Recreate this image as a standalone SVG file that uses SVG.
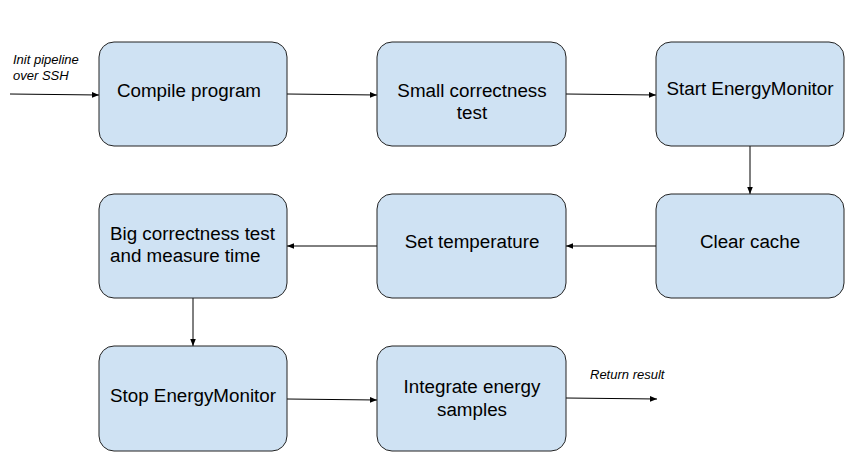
<svg xmlns="http://www.w3.org/2000/svg" width="860" height="470" viewBox="0 0 860 470">
<defs>
<marker id="ah" viewBox="0 0 10 10" refX="10" refY="5" markerWidth="7" markerHeight="7" markerUnits="userSpaceOnUse" orient="auto">
<path d="M0,1 L10,5 L0,9 Z" fill="#000"/>
</marker>
<style>
.box{fill:#cfe2f3;stroke:#222;stroke-width:1}
.t{font-family:"Liberation Sans",Arial,sans-serif;font-size:18.8px;fill:#000;text-anchor:middle}
.tl{font-family:"Liberation Sans",Arial,sans-serif;font-size:18.8px;fill:#000}
.l{font-family:"Liberation Sans",Arial,sans-serif;font-size:13px;font-style:italic;fill:#000}
.c{stroke:#000;stroke-width:1;fill:none;marker-end:url(#ah)}
</style>
</defs>
<rect width="860" height="470" fill="#fff"/>
<g id="connectors">
<line class="c" x1="10" y1="94" x2="99" y2="95"/>
<line class="c" x1="287" y1="94" x2="377" y2="95"/>
<line class="c" x1="566" y1="94" x2="656" y2="95"/>
<line class="c" x1="750" y1="146" x2="750" y2="194"/>
<line class="c" x1="656" y1="246" x2="566" y2="246"/>
<line class="c" x1="377" y1="246" x2="287" y2="246"/>
<line class="c" x1="193" y1="298" x2="193" y2="346"/>
<line class="c" x1="287" y1="399" x2="377" y2="400"/>
<line class="c" x1="566" y1="398" x2="657" y2="399"/>
<text class="l" x="13" y="64">Init pipeline</text>
<text class="l" x="13" y="80">over SSH</text>
<text class="l" x="590" y="379">Return result</text>
</g>
<g id="compile"><rect class="box" x="99" y="42" width="188" height="104" rx="15"/><text class="t" x="189" y="97">Compile program</text></g>
<g id="small"><rect class="box" x="377" y="42" width="189" height="104" rx="15"/><text class="t" x="472" y="97">Small correctness</text><text class="t" x="472" y="119">test</text></g>
<g id="start"><rect class="box" x="656" y="42" width="188" height="104" rx="15"/><text class="t" x="750" y="95">Start EnergyMonitor</text></g>
<g id="clear"><rect class="box" x="656" y="194" width="188" height="104" rx="15"/><text class="t" x="750" y="248">Clear cache</text></g>
<g id="settemp"><rect class="box" x="377" y="194" width="189" height="104" rx="15"/><text class="t" x="472" y="248">Set temperature</text></g>
<g id="big"><rect class="box" x="99" y="194" width="188" height="104" rx="15"/><text class="tl" x="110" y="240">Big correctness test</text><text class="tl" x="110" y="262">and measure time</text></g>
<g id="stop"><rect class="box" x="99" y="346" width="188" height="105" rx="15"/><text class="t" x="193" y="402">Stop EnergyMonitor</text></g>
<g id="integrate"><rect class="box" x="377" y="346" width="189" height="105" rx="15"/><text class="t" x="472" y="393">Integrate energy</text><text class="t" x="472" y="416">samples</text></g>
</svg>
